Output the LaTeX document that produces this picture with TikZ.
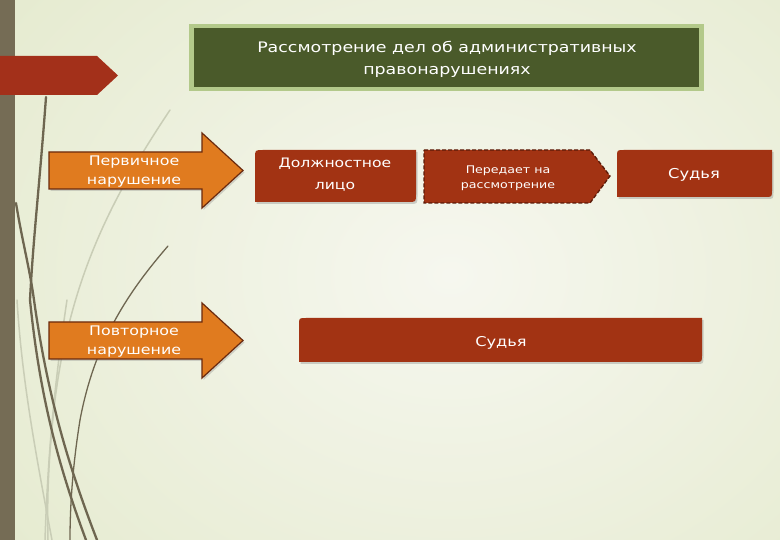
\documentclass[tikz,border=0pt]{standalone}
\usepackage{fontspec}
\setmainfont{DejaVu Sans}[FakeStretch=1.2]
\usetikzlibrary{shadows}
\definecolor{bgin}{HTML}{F6F7EF}
\definecolor{bgout}{HTML}{E3E9CB}
\definecolor{barcol}{HTML}{756C55}
\definecolor{redbox}{HTML}{A23313}
\definecolor{redtab}{HTML}{A3301A}
\definecolor{darkgreen}{HTML}{4A5A2A}
\definecolor{lightgreen}{HTML}{B3C98A}
\definecolor{orangefill}{HTML}{E07B1F}
\definecolor{orangeedge}{HTML}{6B2A0E}
\definecolor{dashedge}{HTML}{5A1A08}
\definecolor{curvedark}{HTML}{6E6650}
\definecolor{curvelight}{HTML}{C9CDB6}
\tikzset{
  redshape/.style={fill=redbox, drop shadow={opacity=0.35, shadow xshift=1.5pt, shadow yshift=-2pt}},
  orangearrow/.style={fill=orangefill, draw=orangeedge, line width=1.2pt, drop shadow={opacity=0.3, shadow xshift=1.5pt, shadow yshift=-2pt}},
  dashbox/.style={fill=redbox, draw=dashedge, line width=1.3pt, dash pattern=on 4pt off 2pt},
  darkcurve/.style={draw=curvedark, line width=2.3pt, line cap=round},
  thincurve/.style={draw=curvedark, line width=1.3pt, line cap=round},
  lightcurve/.style={draw=curvelight, line width=1.5pt, line cap=round},
  txt/.style={text=white, align=center, inner sep=0pt},
}
\begin{document}
\begin{tikzpicture}[x=1pt,y=-1pt]
\useasboundingbox (0,0) rectangle (780,540);
% background
\shade[inner color=bgin, outer color=bgout] (-200,-250) rectangle (1100,800);
% decorative curves
\path[lightcurve] (170,110) .. controls (110,200) and (70,280) .. (55,400) .. controls (48,460) and (47,500) .. (48,540);
\path[lightcurve] (17,300) .. controls (22,380) and (35,450) .. (52,540);
\path[lightcurve] (67,300) .. controls (55,380) and (48,450) .. (45,540);
\path[darkcurve] (46,97) .. controls (40,180) and (33,240) .. (30,300) .. controls (40,400) and (60,470) .. (86,540);
\path[darkcurve] (16,203) .. controls (22,240) and (30,270) .. (34,300) .. controls (48,400) and (70,470) .. (97,540);
\path[thincurve] (168,246) .. controls (130,290) and (95,340) .. (80,420) .. controls (72,470) and (70,510) .. (70,540);
% left bar
\fill[barcol] (0,0) rectangle (15,540);
% red tab
\fill[redtab] (0,56) -- (97,56) -- (118,75.5) -- (97,95) -- (0,95) -- cycle;
% title
\fill[lightgreen] (189,24) rectangle (704,91);
\fill[darkgreen] (194,28) rectangle (699,87);
\node[txt, font=\fontsize{14.5}{22}\selectfont] (title) at (447,59.5)
  {Рассмотрение дел об административных\\правонарушениях};
% arrows
\path[orangearrow] (49,152) -- (202,152) -- (202,133) -- (243,170.5) -- (202,208) -- (202,189) -- (49,189) -- cycle;
\node[txt, font=\fontsize{13.2}{19}\selectfont] (perv) at (134,171.5) {Первичное\\нарушение};
\path[orangearrow] (49,322) -- (202,322) -- (202,303) -- (243,340.5) -- (202,378) -- (202,359) -- (49,359) -- cycle;
\node[txt, font=\fontsize{13.2}{19}\selectfont] (povt) at (134,342) {Повторное\\нарушение};
% Должностное лицо
\path[redshape] (255,158) .. controls (255,150) .. (263,150) -- (416,150) -- (416,194) .. controls (416,202) .. (408,202) -- (255,202) -- cycle;
\node[txt, font=\fontsize{13}{22}\selectfont] (dolzh) at (335,175) {Должностное\\лицо};
% Передает на рассмотрение
\path[dashbox] (424,150) -- (590,150) -- (610,176) -- (590,203) -- (424,203) -- cycle;
\node[txt, font=\fontsize{10.5}{15}\selectfont] (pered) at (508,178) {Передает на\\рассмотрение};
% Судья 1
\path[redshape] (617,157) .. controls (617,150) .. (624,150) -- (772,150) -- (772,190) .. controls (772,197) .. (765,197) -- (617,197) -- cycle;
\node[txt, font=\fontsize{13.6}{18}\selectfont] (sud1) at (694,175) {Судья};
% Судья 2
\path[redshape] (299,325) .. controls (299,318) .. (306,318) -- (702,318) -- (702,355) .. controls (702,362) .. (695,362) -- (299,362) -- cycle;
\node[txt, font=\fontsize{13.5}{18}\selectfont] (sud2) at (501,343) {Судья};
\end{tikzpicture}
\end{document}
